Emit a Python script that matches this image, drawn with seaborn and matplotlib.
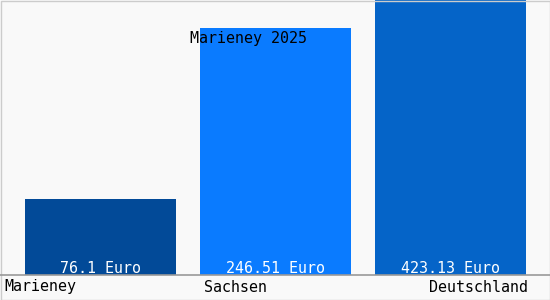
import matplotlib
matplotlib.use("Agg")
import matplotlib.pyplot as plt
import seaborn as sns
import pandas as pd

categories = ["Marieney", "Sachsen", "Deutschland"]
values = [76.1, 246.51, 423.13]
value_labels = ["76.1 Euro", "246.51 Euro", "423.13 Euro"]
colors = ["#024a98", "#0a7bff", "#0564c8"]
title = "Marieney 2025"

sns.set_theme(style="white")
plt.rcParams["font.family"] = ["DejaVu Sans Mono"]

df = pd.DataFrame({"cat": categories, "val": values})

fig = plt.figure(figsize=(5.5, 3.0), dpi=100)
fig.patch.set_facecolor("#f9f9f9")
ax = fig.add_axes([0, 25 / 300, 1, 275 / 300])
ax.set_facecolor("#f9f9f9")

sns.barplot(data=df, x="cat", y="val", hue="cat", palette=colors,
            width=151 / 175, legend=False, ax=ax, saturation=1,
            linewidth=0, edgecolor="none")
ax.set_ylim(0, 274)
ax.set_xlim(-100.5 / 175, 2 + 99.5 / 175)
for s in ax.spines.values():
    s.set_visible(False)
ax.set_xticks([])
ax.set_yticks([])
ax.set_xlabel("")
ax.set_ylabel("")

# value labels inside bars
for i, lab in enumerate(value_labels):
    ax.text(i, 2, lab, ha="center", va="baseline", color="white",
            fontsize=10.8, zorder=5)

# baseline
fig.add_artist(plt.Line2D([0, 1], [25 / 300, 25 / 300], color="#999999",
                          lw=1.2, transform=fig.transFigure))

# category labels
fs = 10.8
yb = 8.5 / 300
fig.text(4 / 550, yb, categories[0], ha="left", va="baseline", fontsize=fs, color="black")
fig.text(204 / 550, yb, categories[1], ha="left", va="baseline", fontsize=fs, color="black")
fig.text(528 / 550, yb, categories[2], ha="right", va="baseline", fontsize=fs, color="black")

# title
fig.text(248 / 550, 1 - 43 / 300, title, ha="center", va="baseline", fontsize=fs,
         color="black", zorder=10)

# border
fig.add_artist(plt.Rectangle((0.5 / 550, 0.5 / 300), 549 / 550, 299 / 300,
                             fill=False, edgecolor="#cccccc", lw=1,
                             transform=fig.transFigure))

fig.savefig("out.png", dpi=100, facecolor=fig.get_facecolor())
